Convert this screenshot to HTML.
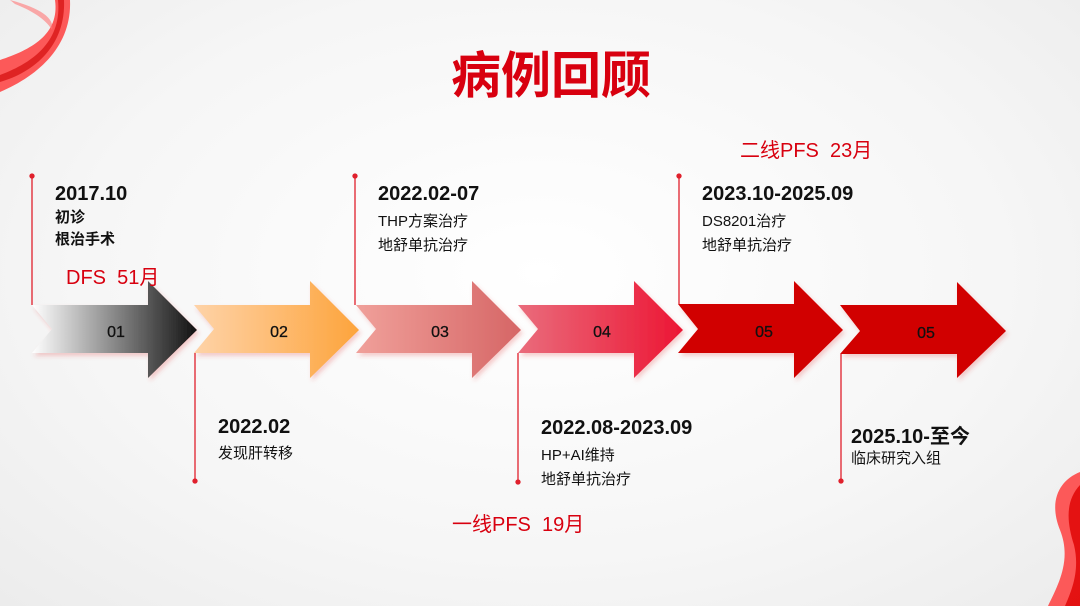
<!DOCTYPE html>
<html><head><meta charset="utf-8"><style>
html,body{margin:0;padding:0}
body{width:1080px;height:606px;overflow:hidden;background:radial-gradient(ellipse at 50% 45%,#ffffff 0%,#f6f6f6 60%,#ececec 100%);font-family:"Liberation Sans","Noto Sans CJK SC",sans-serif;position:relative}
.t{position:absolute;white-space:nowrap;color:#111}
.d{font-weight:bold;font-size:20px}
.s{font-size:15px;line-height:24px}
.r{color:#d8000f;font-size:20px}
</style></head><body>
<svg width="1080" height="606" style="position:absolute;left:0;top:0">
<defs>
<linearGradient id="g1"><stop offset="0" stop-color="#fff"/><stop offset="1" stop-color="#111"/></linearGradient>
<linearGradient id="g2"><stop offset="0" stop-color="#fed3a8"/><stop offset="1" stop-color="#fda43c"/></linearGradient>
<linearGradient id="g3"><stop offset="0" stop-color="#f0a09a"/><stop offset="1" stop-color="#d66666"/></linearGradient>
<linearGradient id="g4"><stop offset="0" stop-color="#ea6c7c"/><stop offset="1" stop-color="#ec1634"/></linearGradient>
<filter id="sh" x="-10%" y="-10%" width="130%" height="130%"><feDropShadow dx="2" dy="3" stdDeviation="2" flood-color="#e04040" flood-opacity="0.25"/></filter>
</defs>
<path d="M0,60 C30,50 60,35 55,0 L70,0 C72,45 40,75 0,92Z" fill="#f33" opacity="0.8"/>
<path d="M0,75 C35,62 62,40 58,0 L64,0 C66,45 35,72 0,82Z" fill="#c00" opacity="0.6"/>
<path d="M10,0 C40,8 55,18 52,30 C45,18 30,10 15,4Z" fill="#f77" opacity="0.6"/>
<path d="M1080,472 C1060,480 1048,500 1060,530 C1072,560 1058,585 1048,606 L1080,606Z" fill="#f33" opacity="0.8"/>
<path d="M1080,485 C1066,500 1066,520 1074,545 C1080,570 1072,590 1065,606 L1080,606Z" fill="#d00" opacity="0.8"/>
<g filter="url(#sh)">
<path d="M32,305 L148,305 L148,281 L197,330 L148,378 L148,353 L32,353 L52,329Z" fill="url(#g1)"/>
<path d="M194,305 L310,305 L310,281 L359,330 L310,378 L310,353 L194,353 L214,329Z" fill="url(#g2)"/>
<path d="M356,305 L472,305 L472,281 L521,330 L472,378 L472,353 L356,353 L376,329Z" fill="url(#g3)"/>
<path d="M518,305 L634,305 L634,281 L683,330 L634,378 L634,353 L518,353 L538,329Z" fill="url(#g4)"/>
<path d="M678,304 L794,304 L794,281 L843,330 L794,378 L794,353 L678,353 L698,329Z" fill="#d10000"/>
<path d="M840,305 L957,305 L957,282 L1006,331 L957,378 L957,354 L840,354 L860,331Z" fill="#d10000"/>
</g>
<g stroke="#e0202c" stroke-width="1.3" fill="#e0202c">
<line x1="32" y1="176" x2="32" y2="305"/><circle cx="32" cy="176" r="2"/>
<line x1="355" y1="176" x2="355" y2="305"/><circle cx="355" cy="176" r="2"/>
<line x1="679" y1="176" x2="679" y2="304"/><circle cx="679" cy="176" r="2"/>
<line x1="195" y1="353" x2="195" y2="481"/><circle cx="195" cy="481" r="2"/>
<line x1="518" y1="353" x2="518" y2="482"/><circle cx="518" cy="482" r="2"/>
<line x1="841" y1="354" x2="841" y2="481"/><circle cx="841" cy="481" r="2"/>
</g>
<g font-family="Liberation Sans,sans-serif" font-size="16" fill="#111" text-anchor="middle" stroke="#111" stroke-width="0.3">
<text x="116" y="337">01</text><text x="279" y="337">02</text><text x="440" y="337">03</text>
<text x="602" y="337">04</text><text x="764" y="337">05</text><text x="926" y="338">05</text>
</g>
</svg>
<div class="t" style="left:0;width:1102px;top:36px;text-align:center;color:#d8000f;font-size:50px;font-weight:bold">病例回顾</div>
<div class="t d" style="left:55px;top:183px">2017.10</div>
<div class="t s" style="left:55px;top:207px;font-weight:bold;line-height:22px">初诊<br>根治手术</div>
<div class="t r" style="left:66px;top:261px">DFS&nbsp; 51月</div>
<div class="t d" style="left:378px;top:183px">2022.02-07</div>
<div class="t s" style="left:378px;top:210px">THP方案治疗<br>地舒单抗治疗</div>
<div class="t r" style="left:740px;top:134px">二线PFS&nbsp; 23月</div>
<div class="t d" style="left:702px;top:183px">2023.10-2025.09</div>
<div class="t s" style="left:702px;top:210px">DS8201治疗<br>地舒单抗治疗</div>
<div class="t d" style="left:218px;top:416px">2022.02</div>
<div class="t s" style="left:218px;top:442px">发现肝转移</div>
<div class="t d" style="left:541px;top:417px">2022.08-2023.09</div>
<div class="t s" style="left:541px;top:444px">HP+AI维持<br>地舒单抗治疗</div>
<div class="t r" style="left:452px;top:508px">一线PFS&nbsp; 19月</div>
<div class="t d" style="left:851px;top:420px">2025.10-至今</div>
<div class="t s" style="left:851px;top:447px">临床研究入组</div>
</body></html>
